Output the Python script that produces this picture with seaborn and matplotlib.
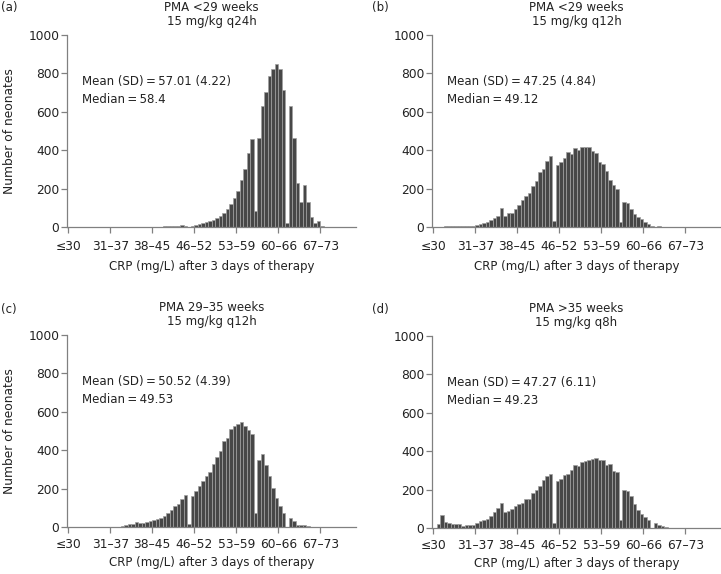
import numpy as np
import pandas as pd
import matplotlib
matplotlib.use("Agg")
import matplotlib.pyplot as plt
import seaborn as sns

# CRP histograms after 3 days of therapy, one panel per PMA / dosing group

tick_labels = ["≤30", "31–37", "38–45", "46–52", "53–59", "60–66", "67–73"]
tick_pos = [30, 37, 44, 51, 58, 65, 72]

# counts per bin (12 bins per labelled interval, starting at the ≤30 tick)
counts_a = [0] * 27 + [4, 5, 6, 6, 7, 9, 6] + [0] + [
    6, 10, 14, 19, 24, 30, 36, 45, 55, 73, 92, 120, 150, 188, 247, 304, 383, 457,
    82, 461, 630, 704, 786, 821, 847, 821, 713, 21, 630, 461, 230, 130, 221, 130,
    52, 21, 30, 3]
counts_b = [0] * 3 + [4, 5, 5, 5, 4, 4, 4, 3, 3] + [
    10, 16, 21, 28, 35, 45, 57, 100, 55, 74, 74, 95, 116, 140, 159, 178, 216, 239,
    287, 303, 346, 372] + [31] + [
    322, 339, 360, 391, 381, 409, 402, 417, 417, 417, 395, 386, 338, 326, 294, 244,
    218, 196] + [28] + [130, 125, 92, 69, 52, 40, 28, 14, 7] + [0, 7] + [0] * 8
counts_c = [0] * 15 + [
    5, 9, 14, 17, 26, 19, 21, 26, 30, 35, 42, 45, 56, 73, 87, 108, 122, 148, 165] + [17] + [
    160, 186, 212, 238, 264, 287, 327, 362, 395, 449, 461, 508, 527, 536, 548, 527,
    504, 483] + [75] + [351, 379, 322, 264, 205, 153, 110, 75] + [0] + [
    49, 31, 9, 9, 12, 7] + [0] * 4
counts_d = [0] + [
    22, 69, 33, 27, 21, 22, 22, 12, 15, 15, 15, 27, 34, 43, 48, 60, 82, 103, 129, 82,
    89, 100, 112, 125, 129, 149, 149, 180, 197, 218, 249, 270, 280] + [26] + [
    244, 254, 275, 283, 304, 330, 323, 343, 348, 355, 360, 366, 355, 352, 330, 335,
    295, 292] + [43] + [197, 193, 169, 123, 96, 75, 56, 40] + [0] + [28, 17, 9, 5] + [0] * 6

letters = ["(a)", "(b)", "(c)", "(d)"]
titles = ["PMA <29 weeks\n15 mg/kg q24h", "PMA <29 weeks\n15 mg/kg q12h",
          "PMA 29–35 weeks\n15 mg/kg q12h", "PMA >35 weeks\n15 mg/kg q8h"]
means = ["57.01 (4.22)", "47.25 (4.84)", "50.52 (4.39)", "47.27 (6.11)"]
medians = ["58.4", "49.12", "49.53", "49.23"]

sns.set_theme(style="ticks")
plt.rcParams["font.family"] = ["DejaVu Sans"]
fs = 8.5
txt = "#222222"
grey = "#808080"
eq = "\u2009=\u2009"

bin_w = 7 / 12
edges = [30 + bin_w * k for k in range(len(counts_a) + 1)]
centers = [e + bin_w / 2 for e in edges[:-1]]

fig = plt.figure(figsize=(7.21, 5.74), dpi=100)
W, H = 721, 574
boxes = [(67, 35), (432, 35), (67, 335), (432, 336)]
ax_w, ax_h = 289, 192

for i, counts in enumerate([counts_a, counts_b, counts_c, counts_d]):
    left, top = boxes[i]
    ax = fig.add_axes([left / W, 1 - (top + ax_h) / H, ax_w / W, ax_h / H])
    df = pd.DataFrame({"crp": centers, "n": counts})
    sns.histplot(data=df, x="crp", weights="n", bins=edges, ax=ax, color="#474747",
                 edgecolor="#a0a0a0", linewidth=0.5, alpha=1)
    ax.set_xlim(29.8, 29.8 + ax_w / 6)
    ax.set_ylim(0, 1000)
    ax.set_yticks(range(0, 1001, 200))
    ax.set_xticks(tick_pos)
    ax.set_xticklabels(tick_labels)
    sns.despine(ax=ax)
    for s in ["left", "bottom"]:
        ax.spines[s].set_color(grey)
        ax.spines[s].set_linewidth(0.9)
    ax.tick_params(axis="both", colors=grey, labelcolor=txt, labelsize=8.8,
                   length=4, width=0.9)
    bottom_row = i >= 2
    ax.tick_params(axis="x", pad=4 if bottom_row else 5.5)
    ax.tick_params(axis="y", pad=1.5)
    ax.set_xlabel("CRP (mg/L) after 3 days of therapy", fontsize=fs, color=txt,
                  labelpad=3.5 if bottom_row else 5)
    if i % 2 == 0:
        ax.set_ylabel("Number of neonates", fontsize=8.8, color=txt, labelpad=9)
    else:
        ax.set_ylabel("")
    t1, t2 = titles[i].split("\n")
    ax.text(0.5, 1.145, t1, transform=ax.transAxes, ha="center", va="center",
            fontsize=fs, color=txt)
    ax.text(0.5, 1.07, t2, transform=ax.transAxes, ha="center", va="center",
            fontsize=fs, color=txt)
    ax.text(0.052, 0.757, "Mean (SD)" + eq + means[i], transform=ax.transAxes,
            ha="left", va="center", fontsize=fs, color=txt)
    ax.text(0.052, 0.665, "Median" + eq + medians[i], transform=ax.transAxes,
            ha="left", va="center", fontsize=fs, color=txt)
    lx = 1 if i % 2 == 0 else 372
    ly = 7.5 if i < 2 else 309
    fig.text(lx / W, 1 - ly / H, letters[i], ha="left", va="center", fontsize=fs,
             color=txt)

fig.savefig("out.png", dpi=100)
